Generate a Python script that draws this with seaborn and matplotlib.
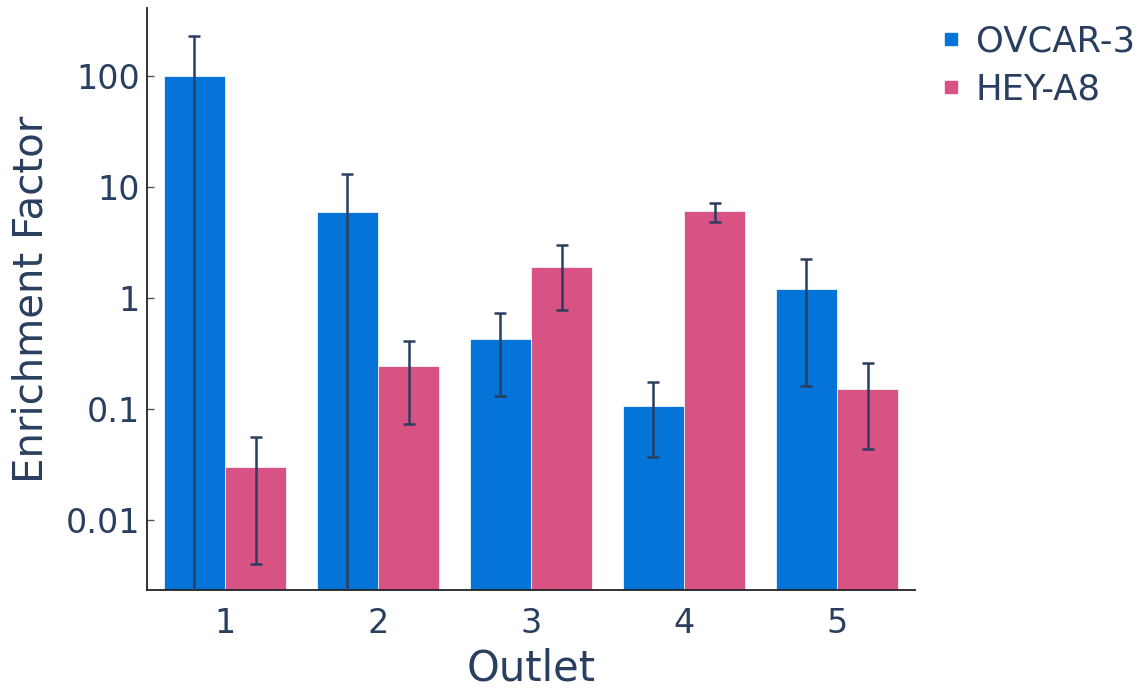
import pandas as pd
import seaborn as sns
import matplotlib.pyplot as plt
from matplotlib.lines import Line2D

outlets = ["1", "2", "3", "4", "5"]
cell_lines = ["OVCAR-3", "HEY-A8"]
ovcar_vals = [100, 5.95, 0.43, 0.106, 1.2]
ovcar_err = [128, 7.0, 0.30, 0.069, 1.04]
hey_vals = [0.030, 0.243, 1.88, 6.0, 0.151]
hey_err = [0.026, 0.17, 1.10, 1.2, 0.107]
y_ticks = [0.01, 0.1, 1, 10, 100]
y_ticklabels = ["0.01", "0.1", "1", "10", "100"]

text_col = "#2a3f5f"
colors = ["#0474d9", "#d85383"]

df = pd.DataFrame({
    "Outlet": outlets * 2,
    "line": [cell_lines[0]] * 5 + [cell_lines[1]] * 5,
    "value": ovcar_vals + hey_vals,
})
errs = [ovcar_err, hey_err]

sns.set_style("white")
plt.rcParams["font.family"] = ["DejaVu Sans"]

fig = plt.figure(figsize=(11.44, 6.91), dpi=100)
ax = fig.add_axes([0.1285, 0.1462, 0.6713, 0.8422])

sns.barplot(data=df, x="Outlet", y="value", hue="line", palette=colors,
            saturation=1, width=0.8, errorbar=None, edgecolor="#f0f4fa",
            linewidth=0.6, legend=False, ax=ax)
ax.set_yscale("log")

for cont, err in zip(ax.containers, errs):
    xs = [b.get_x() + b.get_width() / 2 for b in cont]
    ys = [b.get_height() for b in cont]
    ax.errorbar(xs, ys, yerr=err, fmt="none", ecolor=text_col, elinewidth=1.8,
                capsize=4.5, capthick=1.8, zorder=5)

ax.set_ylim(10 ** -2.63, 10 ** 2.61)
ax.set_xlim(-0.51, 4.51)
ax.set_yticks(y_ticks)
ax.set_yticklabels(y_ticklabels)
ax.minorticks_off()
ax.tick_params(axis="y", left=True, direction="in", length=5, width=1,
               color="#555555", labelsize=24, labelcolor=text_col, pad=5)
ax.tick_params(axis="x", bottom=False, length=0, labelsize=24,
               labelcolor=text_col, pad=12)

for s in ["top", "right"]:
    ax.spines[s].set_visible(False)
for s in ["left", "bottom"]:
    ax.spines[s].set_color("#222222")
    ax.spines[s].set_linewidth(1.3)

ax.set_xlabel("Outlet", fontsize=30, color=text_col, labelpad=6)
ax.set_ylabel("Enrichment Factor", fontsize=29, color=text_col, labelpad=10)

handles = [Line2D([], [], marker="s", linestyle="none", markersize=9,
                  markerfacecolor=c, markeredgecolor=c) for c in colors]
fig.legend(handles, cell_lines, loc="upper left",
           bbox_to_anchor=(937 / 1144, 1 - 24 / 691), frameon=False,
           fontsize=25.5, handlelength=0.8, handletextpad=0.3,
           labelspacing=0.4, borderaxespad=0, borderpad=0,
           labelcolor=text_col)

fig.savefig("out.png", dpi=100)
